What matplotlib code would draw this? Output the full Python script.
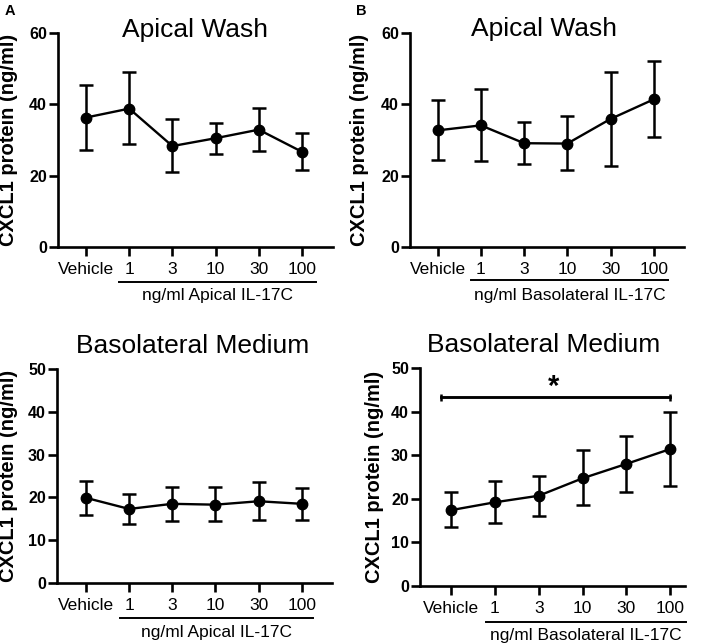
import numpy as np
import matplotlib
matplotlib.use("Agg")
import matplotlib.pyplot as plt

plt.rcParams['font.family'] = ['Liberation Sans', 'DejaVu Sans']

# ---- данные ----
categories = ["Vehicle", "1", "3", "10", "30", "100"]

# A, Apical Wash
a_top_mean = [36.3, 38.8, 28.3, 30.5, 32.9, 26.7]
a_top_up = [45.3, 49.1, 35.9, 34.9, 38.9, 31.9]
a_top_low = [27.2, 28.8, 20.9, 26.0, 27.0, 21.7]

# B, Apical Wash
b_top_mean = [32.7, 34.1, 29.1, 29.0, 35.9, 41.4]
b_top_up = [41.3, 44.3, 35.1, 36.6, 49.2, 52.1]
b_top_low = [24.4, 24.0, 23.2, 21.5, 22.8, 30.9]

# A, Basolateral Medium
a_bot_mean = [19.9, 17.3, 18.5, 18.3, 19.1, 18.5]
a_bot_up = [23.8, 20.7, 22.5, 22.5, 23.7, 22.1]
a_bot_low = [16.0, 13.9, 14.4, 14.4, 14.7, 14.8]

# B, Basolateral Medium
b_bot_mean = [17.4, 19.2, 20.7, 24.7, 28.0, 31.4]
b_bot_up = [21.5, 24.0, 25.2, 31.1, 34.4, 40.0]
b_bot_low = [13.5, 14.4, 16.1, 18.6, 21.5, 23.0]

sig_y = 43.3
sig_star = "*"

W, H = 702, 644
fig = plt.figure(figsize=(W / 100, H / 100), dpi=100)


def px_axes(left, right, top, bottom):
    return fig.add_axes([left / W, 1 - bottom / H, (right - left) / W, (bottom - top) / H])


def draw_panel(ax, mean, up, low, ymax, ystep, xlim, group_label, bracket, label_x):
    x = np.arange(len(categories))
    mean = np.array(mean)
    yerr = [mean - np.array(low), np.array(up) - mean]
    ax.errorbar(x, mean, yerr=yerr, color='black', lw=1.7, elinewidth=1.8,
                capsize=5, capthick=1.8, marker='o', markersize=7.5, clip_on=False, zorder=3)
    ax.set_xlim(*xlim)
    ax.set_ylim(0, ymax)
    ax.set_yticks(np.arange(0, ymax + 1, ystep))
    ax.set_xticks(x)
    ax.set_xticklabels(categories, fontsize=12.5)
    for t in ax.get_yticklabels():
        t.set_fontweight('bold')
        t.set_fontsize(11.5)
    ax.tick_params(axis='both', width=1.9, length=6.5, direction='out', pad=1.5)
    ax.tick_params(axis='x', pad=4)
    ax.spines['top'].set_visible(False)
    ax.spines['right'].set_visible(False)
    ax.spines['left'].set_linewidth(1.9)
    ax.spines['bottom'].set_linewidth(1.9)
    ax.set_ylabel("CXCL1 protein (ng/ml)", fontsize=14.5, fontweight='bold')
    ax.yaxis.set_label_coords(label_x, 0.5)

    # подпись группы под осью X
    tr = ax.get_xaxis_transform()
    ax.plot(bracket[:2], [bracket[2], bracket[2]], color='black', lw=1.4,
            transform=tr, clip_on=False)
    ax.text((bracket[0] + bracket[1]) / 2, bracket[3], group_label, transform=tr,
            ha='center', va='center', fontsize=12.5)


ax1 = px_axes(58, 333, 33, 247)
draw_panel(ax1, a_top_mean, a_top_up, a_top_low, 60, 20, (-0.65, 5.72),
           "ng/ml Apical IL-17C", (0.76, 5.32, -0.164, -0.226), -0.145)

ax2 = px_axes(410, 684, 33, 247)
draw_panel(ax2, b_top_mean, b_top_up, b_top_low, 60, 20, (-0.64, 5.7),
           "ng/ml Basolateral IL-17C", (0.77, 5.34, -0.154, -0.226), -0.15)

ax3 = px_axes(57, 332, 369, 583)
draw_panel(ax3, a_bot_mean, a_bot_up, a_bot_low, 50, 10, (-0.67, 5.7),
           "ng/ml Apical IL-17C", (0.79, 5.25, -0.164, -0.229), -0.142)

ax4 = px_axes(420, 685, 368, 586)
draw_panel(ax4, b_bot_mean, b_bot_up, b_bot_low, 50, 10, (-0.71, 5.34),
           "ng/ml Basolateral IL-17C", (0.80, 5.37, -0.165, -0.225), -0.136)

# значимость: Vehicle vs 100
ax4.errorbar([-0.24, 5], [sig_y, sig_y], yerr=0.8, color='black', lw=1.8,
             capsize=0, elinewidth=1.8, clip_on=False)
ax4.plot([-0.24, 5], [sig_y, sig_y], color='black', lw=1.8)
ax4.text(2.35, sig_y + 0.5, sig_star, ha='center', va='baseline', fontsize=21,
         fontweight='bold')

# заголовки
fig.text(195 / W, 1 - 37 / H, "Apical Wash", ha='center', va='baseline', fontsize=19)
fig.text(544 / W, 1 - 36 / H, "Apical Wash", ha='center', va='baseline', fontsize=19)
fig.text(193 / W, 1 - 353 / H, "Basolateral Medium", ha='center', va='baseline', fontsize=19)
fig.text(544 / W, 1 - 352 / H, "Basolateral Medium", ha='center', va='baseline', fontsize=19)

fig.text(5 / W, 1 - 15 / H, "A", ha='left', va='baseline', fontsize=10.5, fontweight='bold')
fig.text(356 / W, 1 - 15 / H, "B", ha='left', va='baseline', fontsize=10.5, fontweight='bold')

fig.savefig("out.png", dpi=100)
